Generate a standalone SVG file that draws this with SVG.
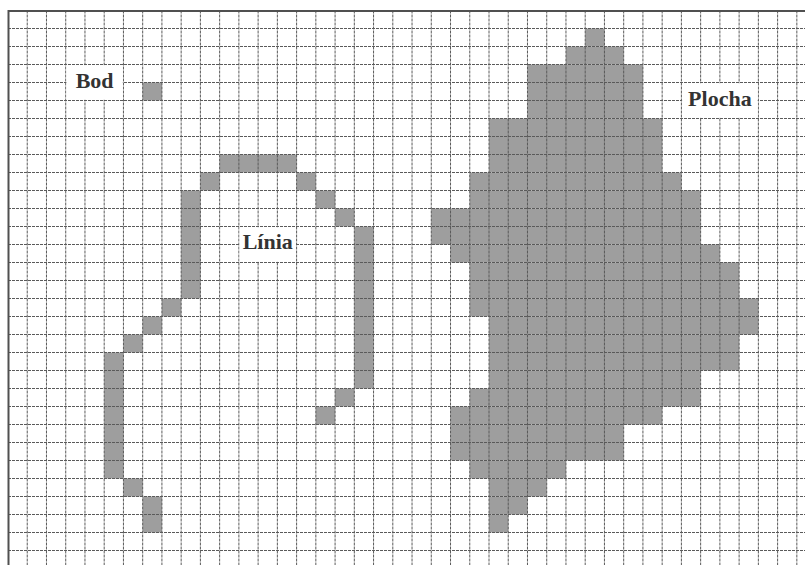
<svg xmlns="http://www.w3.org/2000/svg" width="805" height="565" viewBox="0 0 805 565">
<style>
.cell{fill:#9e9e9e}
.grid{fill:none;stroke:#5a5a5a;stroke-width:1;stroke-dasharray:3 1}
.border{fill:none;stroke:#505050;stroke-width:2}
.lblbox{fill:#fff}
.lbl{font-family:"Liberation Serif","Times New Roman",serif;font-weight:bold;font-size:22px;fill:#333;text-anchor:middle}
</style>
<rect width="805" height="565" fill="#fff"/>
<g id="cells" transform="translate(8 10.5) scale(19.24 18)">
<g id="bod"><rect class="cell" x="7" y="4" width="1" height="1"/></g>
<g id="linia-shape">
<rect class="cell" x="11" y="8" width="4" height="1"/>
<rect class="cell" x="10" y="9" width="1" height="1"/>
<rect class="cell" x="15" y="9" width="1" height="1"/>
<rect class="cell" x="9" y="10" width="1" height="6"/>
<rect class="cell" x="16" y="10" width="1" height="1"/>
<rect class="cell" x="17" y="11" width="1" height="1"/>
<rect class="cell" x="18" y="12" width="1" height="9"/>
<rect class="cell" x="8" y="16" width="1" height="1"/>
<rect class="cell" x="7" y="17" width="1" height="1"/>
<rect class="cell" x="6" y="18" width="1" height="1"/>
<rect class="cell" x="5" y="19" width="1" height="7"/>
<rect class="cell" x="17" y="21" width="1" height="1"/>
<rect class="cell" x="16" y="22" width="1" height="1"/>
<rect class="cell" x="6" y="26" width="1" height="1"/>
<rect class="cell" x="7" y="27" width="1" height="2"/>
</g>
<g id="plocha-shape">
<rect class="cell" x="30" y="1" width="1" height="1"/>
<rect class="cell" x="29" y="2" width="3" height="1"/>
<rect class="cell" x="27" y="3" width="6" height="3"/>
<rect class="cell" x="25" y="6" width="9" height="3"/>
<rect class="cell" x="24" y="9" width="11" height="1"/>
<rect class="cell" x="24" y="10" width="12" height="1"/>
<rect class="cell" x="22" y="11" width="14" height="2"/>
<rect class="cell" x="23" y="13" width="14" height="1"/>
<rect class="cell" x="24" y="14" width="14" height="2"/>
<rect class="cell" x="24" y="16" width="15" height="1"/>
<rect class="cell" x="25" y="17" width="14" height="1"/>
<rect class="cell" x="25" y="18" width="13" height="2"/>
<rect class="cell" x="25" y="20" width="11" height="1"/>
<rect class="cell" x="24" y="21" width="12" height="1"/>
<rect class="cell" x="23" y="22" width="11" height="1"/>
<rect class="cell" x="23" y="23" width="9" height="2"/>
<rect class="cell" x="24" y="25" width="5" height="1"/>
<rect class="cell" x="25" y="26" width="3" height="1"/>
<rect class="cell" x="25" y="27" width="2" height="1"/>
<rect class="cell" x="25" y="28" width="1" height="1"/>
</g>
</g>
<g id="grid">
<path class="grid" d="M27.24 10.5V565M46.48 10.5V565M65.72 10.5V565M84.96 10.5V565M104.2 10.5V565M123.44 10.5V565M142.68 10.5V565M161.92 10.5V565M181.16 10.5V565M200.4 10.5V565M219.64 10.5V565M238.88 10.5V565M258.12 10.5V565M277.36 10.5V565M296.6 10.5V565M315.84 10.5V565M335.08 10.5V565M354.32 10.5V565M373.56 10.5V565M392.8 10.5V565M412.04 10.5V565M431.28 10.5V565M450.52 10.5V565M469.76 10.5V565M489 10.5V565M508.24 10.5V565M527.48 10.5V565M546.72 10.5V565M565.96 10.5V565M585.2 10.5V565M604.44 10.5V565M623.68 10.5V565M642.92 10.5V565M662.16 10.5V565M681.4 10.5V565M700.64 10.5V565M719.88 10.5V565M739.12 10.5V565M758.36 10.5V565M777.6 10.5V565M796.84 10.5V565"/>
<path class="grid" d="M8 28.5H805M8 46.5H805M8 64.5H805M8 82.5H805M8 100.5H805M8 118.5H805M8 136.5H805M8 154.5H805M8 172.5H805M8 190.5H805M8 208.5H805M8 226.5H805M8 244.5H805M8 262.5H805M8 280.5H805M8 298.5H805M8 316.5H805M8 334.5H805M8 352.5H805M8 370.5H805M8 388.5H805M8 406.5H805M8 424.5H805M8 442.5H805M8 460.5H805M8 478.5H805M8 496.5H805M8 514.5H805M8 532.5H805M8 550.5H805"/>
<path class="border" d="M8.5 565V11H805"/>
</g>
<g id="label-bod">
<rect class="lblbox" x="66.4" y="65.2" width="56.4" height="34.6"/>
<text class="lbl" x="94.6" y="88">Bod</text>
</g>
<g id="label-linia">
<rect class="lblbox" x="239.6" y="227.2" width="56.3" height="34.6"/>
<text class="lbl" x="267.7" y="249">Línia</text>
</g>
<g id="label-plocha">
<rect class="lblbox" x="682.1" y="83.2" width="75.6" height="34.6"/>
<text class="lbl" x="719.9" y="106">Plocha</text>
</g>
</svg>
